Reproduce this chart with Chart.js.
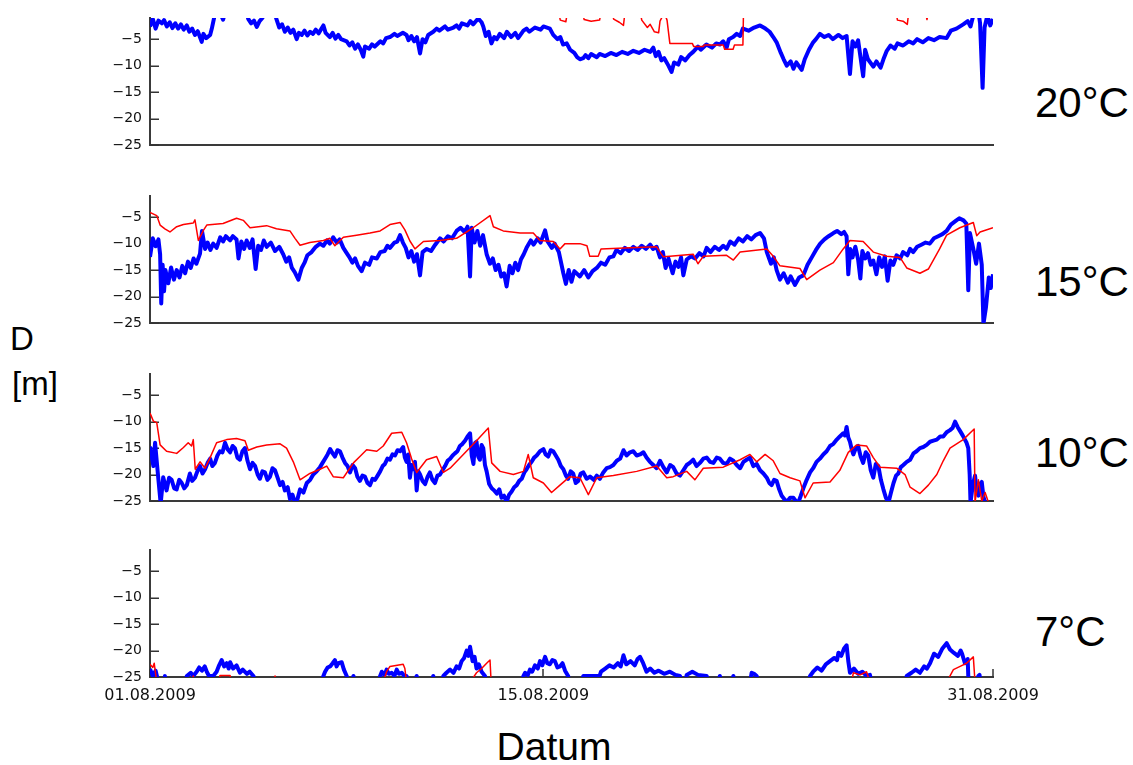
<!DOCTYPE html>
<html>
<head>
<meta charset="utf-8">
<script src="https://cdn.jsdelivr.net/npm/chart.js@4.4.1/dist/chart.umd.min.js"></script>
<style>
html, body { margin: 0; padding: 0; background: #fff; }
body { width: 1133px; height: 765px; position: relative; overflow: hidden; font-family: 'Liberation Sans', Arial, sans-serif; color: #000; }
.panel { position: absolute; left: 0; width: 1133px; }
.temp { position: absolute; left: 1035px; font-size: 42px; line-height: 42px; }
.lbl { position: absolute; font-size: 33px; line-height: 33px; }
#datum { position: absolute; left: 404px; width: 300px; top: 727px; text-align: center; font-size: 39px; line-height: 39px; }
</style>
</head>
<body>
<div class="lbl" style="left:10px;top:322px">D</div>
<div class="lbl" style="left:12px;top:367px">[m]</div>
<div id="datum">Datum</div>
<script>
// y ticks (depth, m) and x ticks (days since 01.08.2009)
const depthTicks = [-25, -20, -15, -10, -5];
const dateTicks = [0, 14, 30];
const dateLabels = ['01.08.2009', '15.08.2009', '31.08.2009'];
const panelLabels = ['20°C', '15°C', '10°C', '7°C'];

// series as [day, depth] (values above -1 / below -25 fall outside the plot)
const blue20 = [[0,-2.6],[0.1,-1.2],[0.2,-3.0],[0.3,-1.5],[0.42,-2.0],[0.5,-1.4],[0.6,-2.6],[0.7,-1.8],[0.8,-2.9],[0.9,-2.0],[1.0,-3.0],[1.1,-2.2],[1.2,-3.2],[1.31,-2.4],[1.4,-3.6],[1.5,-3.0],[1.6,-4.2],[1.7,-3.5],[1.84,-5.5],[1.9,-4.0],[2.0,-4.8],[2.14,-4.2],[2.2,-3.0],[2.3,-0.5],[2.45,0.5],[2.6,-1.3],[2.7,0.5],[3.4,0.5],[3.5,-1.2],[3.6,-2.0],[3.7,-1.5],[3.8,-2.7],[3.9,-1.6],[4.0,-1.0],[4.1,0.5],[4.4,0.5],[4.5,-1.2],[4.6,-2.8],[4.7,-2.2],[4.8,-3.6],[4.9,-2.8],[5.0,-3.8],[5.1,-3.2],[5.22,-5.0],[5.3,-3.8],[5.4,-4.2],[5.5,-3.4],[5.6,-4.3],[5.7,-3.6],[5.8,-4.0],[5.9,-3.2],[6.0,-3.9],[6.17,-2.4],[6.25,-3.8],[6.4,-4.6],[6.5,-3.8],[6.6,-4.9],[6.7,-4.2],[6.8,-5.0],[7.0,-5.4],[7.1,-6.2],[7.2,-5.6],[7.3,-6.8],[7.4,-6.0],[7.5,-7.0],[7.59,-8.3],[7.65,-6.4],[7.8,-6.8],[7.9,-6.0],[8.0,-6.4],[8.2,-5.4],[8.3,-5.8],[8.4,-4.8],[8.54,-4.6],[8.7,-4.0],[8.8,-4.4],[9.0,-3.8],[9.13,-4.2],[9.2,-5.2],[9.3,-4.4],[9.4,-5.4],[9.5,-4.6],[9.61,-7.7],[9.7,-5.0],[9.8,-5.6],[9.9,-4.2],[10.08,-3.6],[10.2,-3.0],[10.3,-3.4],[10.5,-2.6],[10.6,-3.2],[10.8,-2.8],[10.91,-2.4],[11.0,-3.0],[11.1,-2.0],[11.3,-2.4],[11.4,-1.6],[11.5,-2.2],[11.68,-1.1],[11.8,-1.8],[11.86,-2.6],[11.95,-4.4],[12.05,-3.6],[12.15,-5.8],[12.25,-4.6],[12.34,-5.0],[12.45,-4.0],[12.6,-4.8],[12.7,-3.6],[12.85,-4.6],[13.0,-3.8],[13.1,-4.8],[13.29,-3.4],[13.4,-3.0],[13.5,-3.6],[13.7,-2.8],[13.9,-3.2],[14.0,-2.6],[14.23,-3.0],[14.35,-4.2],[14.5,-5.0],[14.6,-4.6],[14.7,-6.0],[14.83,-5.8],[14.95,-7.0],[15.1,-7.6],[15.2,-8.4],[15.3,-8.8],[15.42,-8.6],[15.5,-8.0],[15.6,-8.6],[15.7,-7.8],[15.9,-8.4],[16.0,-7.8],[16.2,-8.2],[16.4,-7.6],[16.6,-8.0],[16.8,-7.4],[17.0,-7.8],[17.2,-7.2],[17.4,-7.6],[17.6,-7.0],[17.8,-7.4],[17.91,-6.6],[18.0,-8.2],[18.1,-7.4],[18.2,-9.0],[18.3,-8.6],[18.45,-10.0],[18.56,-11.2],[18.65,-9.4],[18.8,-9.8],[18.9,-8.4],[19.05,-9.0],[19.2,-8.0],[19.33,-7.4],[19.5,-6.4],[19.6,-7.0],[19.8,-6.0],[20.0,-6.6],[20.15,-5.8],[20.28,-6.0],[20.4,-5.4],[20.52,-6.6],[20.6,-5.0],[20.75,-4.6],[20.88,-4.0],[21.0,-4.4],[21.1,-3.0],[21.3,-3.4],[21.5,-2.8],[21.71,-2.4],[21.9,-3.0],[22.05,-3.6],[22.18,-4.6],[22.3,-5.6],[22.45,-7.6],[22.55,-8.8],[22.66,-10.0],[22.8,-9.2],[22.9,-10.6],[23.0,-9.4],[23.19,-10.8],[23.3,-8.8],[23.45,-7.0],[23.6,-5.6],[23.7,-5.0],[23.84,-4.0],[24.0,-4.6],[24.15,-4.2],[24.3,-5.0],[24.5,-4.2],[24.65,-4.8],[24.79,-4.4],[24.91,-11.6],[25.0,-5.4],[25.1,-6.4],[25.2,-5.2],[25.38,-12.0],[25.45,-7.0],[25.55,-8.8],[25.74,-10.2],[25.85,-9.2],[26.0,-10.4],[26.1,-8.8],[26.22,-7.2],[26.35,-6.2],[26.5,-6.8],[26.6,-5.8],[26.8,-6.2],[27.0,-5.4],[27.16,-5.8],[27.3,-5.0],[27.5,-5.6],[27.7,-4.8],[27.9,-5.2],[28.1,-4.6],[28.35,-4.8],[28.5,-3.4],[28.7,-3.0],[28.94,-2.2],[29.1,-1.6],[29.2,-2.6],[29.3,-0.5],[29.5,-0.5],[29.54,-2.0],[29.63,-14.2],[29.7,-2.8],[29.8,-0.5],[29.9,-2.4],[30,-1.2]];
const red20 = [[0,0],[14.55,0],[14.6,-1.4],[14.8,-1.7],[14.85,0],[15.4,0],[15.45,-1.3],[15.7,-1.6],[16.0,-1.4],[16.05,0],[16.45,0],[16.5,-1.2],[16.7,-1.8],[16.85,-2.4],[16.9,0],[17.45,0],[17.5,-1.4],[17.7,-2.8],[17.8,-2.2],[17.95,-3.6],[18.1,-3.8],[18.15,-1.6],[18.3,0],[18.4,-1.4],[18.5,-5.8],[19.3,-5.8],[19.35,-6.4],[19.7,-6.4],[19.72,-6.1],[20.4,-6.1],[20.45,-6.9],[20.75,-6.9],[20.8,-6.1],[21.1,-6.1],[21.12,0],[26.55,0],[26.6,-1.4],[26.8,-1.6],[26.95,-2.2],[27.0,0],[27.6,0],[27.65,-1.3],[27.7,0],[30,0]];

const blue15 = [[0,-12.5],[0.1,-9.0],[0.2,-10.5],[0.3,-9.2],[0.36,-12.0],[0.4,-21.3],[0.45,-14.0],[0.5,-19.0],[0.55,-15.0],[0.65,-17.5],[0.75,-14.5],[0.85,-16.8],[0.95,-15.0],[1.05,-16.4],[1.15,-14.2],[1.25,-15.6],[1.35,-13.4],[1.45,-14.6],[1.55,-12.8],[1.65,-13.8],[1.78,-11.9],[1.85,-7.6],[1.96,-11.0],[2.05,-9.8],[2.15,-11.2],[2.25,-10.0],[2.37,-10.8],[2.5,-8.8],[2.6,-9.6],[2.7,-8.6],[2.85,-9.4],[2.95,-8.6],[3.08,-9.2],[3.15,-12.8],[3.25,-9.6],[3.35,-11.0],[3.44,-9.4],[3.55,-10.8],[3.65,-9.2],[3.76,-14.8],[3.85,-10.4],[3.95,-11.2],[4.05,-9.4],[4.15,-10.6],[4.3,-9.8],[4.45,-11.4],[4.6,-10.6],[4.74,-12.0],[4.85,-13.4],[4.95,-12.6],[5.05,-14.6],[5.15,-15.4],[5.28,-16.8],[5.4,-14.6],[5.5,-13.6],[5.6,-12.2],[5.75,-11.6],[5.9,-10.6],[6.05,-10.0],[6.17,-10.4],[6.3,-9.4],[6.4,-10.0],[6.52,-8.8],[6.65,-9.8],[6.75,-9.2],[6.88,-10.8],[7.0,-11.8],[7.1,-12.6],[7.2,-13.6],[7.3,-12.8],[7.4,-14.2],[7.53,-15.2],[7.65,-13.6],[7.8,-14.0],[7.9,-12.6],[8.07,-12.8],[8.2,-11.6],[8.35,-11.4],[8.45,-10.4],[8.54,-10.8],[8.7,-9.8],[8.8,-9.6],[8.9,-8.4],[9.0,-9.8],[9.1,-10.8],[9.2,-12.6],[9.3,-11.4],[9.4,-13.4],[9.5,-12.0],[9.61,-16.0],[9.7,-11.6],[9.85,-11.0],[10.0,-11.4],[10.15,-10.2],[10.32,-9.0],[10.45,-9.6],[10.6,-8.6],[10.75,-9.0],[10.91,-7.6],[11.05,-7.0],[11.2,-7.8],[11.3,-6.8],[11.39,-16.2],[11.45,-7.0],[11.55,-9.8],[11.65,-7.6],[11.75,-10.4],[11.85,-8.4],[11.98,-12.0],[12.1,-13.8],[12.2,-12.8],[12.3,-15.0],[12.4,-14.0],[12.5,-16.2],[12.6,-15.6],[12.69,-18.1],[12.8,-14.2],[12.9,-15.6],[13.0,-13.6],[13.1,-15.0],[13.2,-13.0],[13.3,-12.0],[13.4,-10.8],[13.55,-9.4],[13.65,-10.2],[13.8,-9.0],[13.9,-9.8],[14.06,-7.5],[14.15,-9.6],[14.3,-10.8],[14.4,-10.0],[14.55,-11.6],[14.71,-15.6],[14.8,-17.6],[14.9,-15.0],[15.0,-17.2],[15.1,-15.2],[15.3,-16.2],[15.45,-15.0],[15.6,-16.4],[15.75,-15.2],[15.9,-14.6],[16.05,-13.6],[16.2,-14.0],[16.35,-12.6],[16.49,-12.4],[16.6,-11.2],[16.75,-11.8],[16.9,-10.8],[17.05,-11.4],[17.2,-10.6],[17.35,-11.2],[17.5,-10.4],[17.65,-11.0],[17.8,-10.2],[17.9,-11.0],[18.03,-10.6],[18.15,-12.6],[18.25,-11.6],[18.35,-14.6],[18.45,-12.8],[18.6,-15.6],[18.7,-13.4],[18.8,-14.4],[18.9,-12.6],[18.98,-16.0],[19.1,-13.0],[19.25,-12.4],[19.4,-12.8],[19.55,-11.8],[19.7,-12.4],[19.81,-10.8],[19.95,-11.6],[20.1,-10.6],[20.25,-11.2],[20.4,-10.4],[20.52,-11.0],[20.65,-9.6],[20.8,-10.2],[20.95,-9.0],[21.1,-9.6],[21.25,-8.6],[21.4,-9.2],[21.55,-8.4],[21.71,-8.0],[21.85,-9.0],[21.95,-11.6],[22.1,-13.8],[22.2,-12.6],[22.3,-15.0],[22.42,-16.8],[22.55,-15.6],[22.7,-17.4],[22.8,-16.2],[22.95,-17.8],[23.1,-16.4],[23.25,-16.0],[23.4,-14.0],[23.55,-12.6],[23.7,-11.2],[23.85,-10.0],[24.0,-9.2],[24.15,-8.6],[24.32,-8.0],[24.45,-7.6],[24.6,-8.2],[24.7,-7.8],[24.79,-8.6],[24.85,-15.8],[24.92,-11.0],[25.0,-12.6],[25.1,-10.6],[25.2,-13.0],[25.28,-16.6],[25.35,-11.4],[25.45,-12.8],[25.55,-11.8],[25.65,-14.0],[25.74,-13.2],[25.85,-15.8],[25.95,-12.6],[26.05,-14.4],[26.15,-12.4],[26.25,-17.0],[26.35,-13.2],[26.45,-14.0],[26.57,-12.2],[26.7,-12.8],[26.8,-11.6],[26.95,-12.2],[27.05,-11.0],[27.16,-11.6],[27.3,-10.6],[27.45,-10.2],[27.6,-9.8],[27.75,-10.0],[27.9,-9.0],[28.05,-8.6],[28.2,-8.2],[28.35,-7.6],[28.5,-6.4],[28.65,-5.8],[28.8,-5.2],[28.95,-5.6],[29.05,-6.2],[29.12,-18.8],[29.18,-8.0],[29.3,-11.0],[29.4,-13.8],[29.5,-10.0],[29.6,-14.0],[29.66,-25.2],[29.75,-22.0],[29.85,-16.4],[29.92,-18.4],[30,-15.8]];
const red15 = [[0,-4.1],[0.24,-4.7],[0.36,-6.5],[0.53,-7.2],[0.71,-7.8],[0.95,-6.8],[1.19,-6.4],[1.54,-6.1],[1.6,-5.5],[1.72,-9.4],[1.9,-7.5],[2.02,-6.5],[2.6,-6.2],[3.08,-5.2],[3.32,-5.6],[3.56,-7.0],[4.15,-6.6],[4.5,-7.2],[4.98,-7.6],[5.16,-9.0],[5.34,-10.3],[5.69,-9.8],[6.17,-9.4],[6.4,-9.0],[6.58,-10.4],[6.88,-8.8],[7.35,-8.4],[7.83,-8.0],[8.19,-7.6],[8.54,-6.4],[8.9,-6.0],[9.07,-7.4],[9.25,-9.5],[9.43,-11.0],[9.73,-9.6],[10.32,-9.4],[10.91,-9.0],[11.5,-7.0],[12.1,-4.7],[12.22,-6.8],[12.57,-7.6],[13.17,-8.0],[13.64,-8.0],[13.88,-9.4],[14.35,-9.6],[14.59,-11.0],[14.77,-10.0],[15.3,-10.0],[15.55,-10.4],[15.65,-12.4],[15.95,-12.4],[16.05,-11.0],[17.08,-10.8],[18.03,-10.6],[18.27,-12.5],[18.5,-12.4],[19.33,-12.0],[19.5,-13.8],[19.69,-12.4],[20.52,-12.2],[20.76,-13.1],[21.0,-11.6],[21.95,-11.0],[22.18,-12.4],[22.42,-14.2],[23.13,-14.7],[23.37,-16.8],[23.84,-15.0],[24.32,-13.6],[24.67,-11.0],[24.91,-9.4],[25.38,-9.6],[25.74,-11.6],[26.22,-12.4],[26.69,-12.6],[26.93,-14.6],[27.4,-15.6],[27.7,-14.8],[28.1,-11.0],[28.35,-8.4],[28.82,-7.0],[29.3,-6.0],[29.42,-8.5],[29.54,-7.8],[30,-7.0]];

const blue10 = [[0,-14.7],[0.12,-18.4],[0.18,-14.0],[0.3,-21.0],[0.38,-25.5],[0.47,-20.5],[0.59,-23.0],[0.68,-20.6],[0.77,-21.0],[0.86,-22.6],[0.95,-22.8],[1.04,-21.0],[1.13,-21.6],[1.22,-22.6],[1.31,-22.0],[1.42,-19.8],[1.5,-21.2],[1.6,-20.6],[1.7,-19.2],[1.78,-18.4],[1.87,-19.8],[1.96,-19.0],[2.05,-17.8],[2.14,-17.0],[2.22,-18.4],[2.31,-17.8],[2.4,-16.4],[2.49,-15.6],[2.58,-15.8],[2.67,-14.0],[2.76,-15.2],[2.85,-15.8],[2.94,-14.6],[3.02,-15.0],[3.11,-16.8],[3.2,-17.2],[3.29,-15.6],[3.38,-15.0],[3.47,-17.4],[3.56,-19.0],[3.65,-17.8],[3.74,-18.4],[3.83,-20.0],[3.91,-20.8],[4.0,-19.4],[4.09,-19.6],[4.18,-21.0],[4.27,-20.4],[4.36,-18.8],[4.45,-19.2],[4.54,-20.6],[4.63,-22.0],[4.72,-21.4],[4.8,-23.0],[4.9,-22.4],[4.98,-24.6],[5.07,-23.8],[5.16,-25.3],[5.25,-24.6],[5.34,-22.8],[5.46,-23.4],[5.58,-21.6],[5.7,-21.0],[5.81,-20.0],[5.93,-19.4],[6.05,-18.6],[6.14,-17.8],[6.23,-17.0],[6.32,-16.2],[6.41,-15.2],[6.5,-16.0],[6.58,-16.6],[6.67,-15.4],[6.76,-15.6],[6.85,-16.8],[6.94,-17.8],[7.03,-18.4],[7.12,-19.6],[7.21,-18.2],[7.3,-18.8],[7.38,-20.4],[7.47,-21.2],[7.56,-20.2],[7.65,-20.4],[7.74,-21.6],[7.83,-22.0],[7.92,-20.8],[8.01,-21.0],[8.1,-20.2],[8.19,-19.4],[8.28,-18.4],[8.36,-18.0],[8.45,-17.0],[8.54,-17.2],[8.63,-16.2],[8.72,-16.4],[8.81,-15.4],[8.9,-15.6],[9.01,-14.8],[9.07,-16.8],[9.13,-17.6],[9.19,-16.2],[9.25,-20.6],[9.31,-18.2],[9.37,-19.0],[9.43,-17.6],[9.49,-23.0],[9.55,-19.4],[9.61,-20.0],[9.7,-21.2],[9.79,-21.8],[9.88,-20.4],[9.96,-19.6],[10.05,-21.0],[10.14,-21.6],[10.23,-20.2],[10.32,-20.0],[10.41,-19.2],[10.5,-18.4],[10.59,-17.4],[10.68,-17.0],[10.77,-16.4],[10.85,-16.0],[10.94,-15.6],[11.03,-14.6],[11.12,-14.2],[11.21,-13.6],[11.3,-12.8],[11.39,-12.2],[11.45,-16.4],[11.51,-18.0],[11.57,-14.0],[11.62,-13.8],[11.68,-16.6],[11.74,-17.2],[11.8,-14.4],[11.86,-15.0],[11.92,-18.2],[11.98,-19.4],[12.07,-21.8],[12.16,-22.6],[12.25,-23.0],[12.34,-23.6],[12.43,-22.8],[12.51,-24.4],[12.6,-24.0],[12.69,-25.2],[12.78,-23.8],[12.87,-23.2],[12.96,-22.4],[13.05,-22.0],[13.14,-21.2],[13.23,-20.8],[13.32,-19.6],[13.4,-19.0],[13.49,-18.2],[13.58,-17.6],[13.67,-16.8],[13.76,-16.4],[13.88,-15.6],[14.0,-15.2],[14.08,-16.2],[14.17,-16.6],[14.26,-15.4],[14.35,-15.6],[14.44,-16.4],[14.53,-17.2],[14.62,-18.4],[14.71,-19.0],[14.8,-20.2],[14.88,-20.8],[14.97,-19.4],[15.06,-19.8],[15.15,-21.6],[15.24,-21.2],[15.33,-19.8],[15.42,-19.6],[15.54,-20.8],[15.66,-20.4],[15.8,-21.0],[15.9,-20.2],[16.01,-20.8],[16.13,-19.6],[16.25,-18.8],[16.37,-18.6],[16.49,-18.2],[16.61,-17.4],[16.73,-17.0],[16.85,-15.4],[16.96,-16.4],[17.08,-15.8],[17.2,-15.6],[17.32,-16.4],[17.44,-16.2],[17.56,-15.8],[17.67,-16.8],[17.79,-17.6],[17.91,-18.2],[18.03,-18.8],[18.15,-17.4],[18.27,-18.6],[18.39,-19.6],[18.51,-18.2],[18.62,-18.6],[18.74,-19.8],[18.86,-20.2],[18.98,-19.2],[19.1,-18.2],[19.21,-17.8],[19.33,-17.2],[19.45,-18.4],[19.57,-17.8],[19.69,-17.0],[19.81,-16.8],[19.93,-17.6],[20.05,-17.8],[20.17,-16.8],[20.28,-17.0],[20.4,-17.8],[20.52,-18.0],[20.64,-17.0],[20.76,-17.4],[20.88,-18.2],[21.0,-18.8],[21.12,-17.6],[21.23,-17.2],[21.35,-16.8],[21.47,-18.4],[21.59,-18.0],[21.71,-19.2],[21.83,-19.8],[21.95,-20.6],[22.04,-21.6],[22.12,-22.0],[22.21,-21.0],[22.3,-21.2],[22.39,-22.8],[22.48,-24.0],[22.57,-24.6],[22.66,-25.2],[22.78,-24.4],[22.9,-24.4],[22.98,-25.0],[23.07,-25.3],[23.16,-24.0],[23.25,-22.6],[23.37,-21.0],[23.49,-19.6],[23.6,-18.8],[23.72,-17.6],[23.84,-17.0],[23.96,-16.2],[24.08,-15.6],[24.2,-14.6],[24.32,-14.2],[24.44,-13.4],[24.55,-12.8],[24.67,-12.2],[24.73,-12.6],[24.79,-11.0],[24.85,-13.0],[24.91,-13.8],[24.97,-15.2],[25.03,-16.2],[25.12,-15.0],[25.2,-14.6],[25.29,-16.6],[25.38,-17.8],[25.47,-15.8],[25.56,-16.4],[25.65,-19.2],[25.74,-20.6],[25.83,-18.0],[25.92,-18.4],[26.01,-21.0],[26.1,-22.8],[26.19,-24.4],[26.28,-25.3],[26.37,-23.4],[26.46,-21.6],[26.55,-20.2],[26.63,-19.8],[26.72,-18.6],[26.81,-18.2],[26.93,-17.6],[27.05,-17.2],[27.17,-16.0],[27.28,-15.6],[27.4,-15.0],[27.52,-14.8],[27.64,-14.4],[27.76,-13.8],[27.88,-13.6],[28.0,-13.4],[28.12,-12.8],[28.23,-12.8],[28.35,-12.0],[28.47,-11.6],[28.56,-11.2],[28.65,-10.0],[28.74,-11.0],[28.83,-11.8],[28.92,-12.6],[29.0,-13.4],[29.06,-14.0],[29.12,-15.0],[29.17,-20.0],[29.2,-25.3],[29.28,-22.0],[29.36,-20.2],[29.42,-23.0],[29.48,-24.0],[29.54,-21.8],[29.6,-21.4],[29.66,-24.2],[29.72,-25.3],[30,-26]];
const red10 = [[0,-8.4],[0.12,-9.9],[0.24,-10.2],[0.36,-14.4],[0.59,-15.6],[0.95,-16.0],[1.19,-14.9],[1.36,-14.0],[1.48,-14.6],[1.54,-13.4],[1.61,-19.0],[1.78,-17.6],[1.96,-18.8],[2.14,-16.8],[2.37,-14.0],[2.73,-13.4],[3.08,-13.2],[3.38,-13.6],[3.5,-15.4],[3.8,-14.8],[4.15,-14.4],[4.63,-14.2],[4.86,-15.0],[5.1,-17.6],[5.34,-21.0],[5.69,-19.8],[6.05,-19.0],[6.29,-18.4],[6.52,-20.4],[6.88,-20.6],[7.24,-17.8],[7.47,-16.6],[7.71,-15.3],[8.07,-15.6],[8.3,-14.6],[8.6,-12.2],[8.96,-12.0],[9.13,-14.0],[9.31,-17.0],[9.49,-19.6],[9.84,-17.2],[10.2,-16.6],[10.44,-19.6],[10.68,-18.8],[11.15,-16.2],[11.62,-13.6],[12.04,-11.2],[12.16,-17.8],[12.46,-19.4],[12.93,-20.0],[13.29,-19.4],[13.46,-16.2],[13.64,-20.6],[14.0,-21.6],[14.29,-23.4],[14.59,-22.0],[14.94,-20.4],[15.3,-20.6],[15.6,-23.8],[15.9,-20.6],[16.49,-20.2],[17.32,-19.4],[18.03,-18.4],[18.39,-20.6],[18.62,-20.4],[19.1,-19.4],[19.39,-21.0],[19.69,-18.8],[20.4,-18.6],[21.0,-17.2],[21.35,-16.2],[21.59,-17.6],[21.89,-16.2],[22.18,-17.4],[22.42,-19.8],[22.78,-20.6],[23.13,-21.2],[23.31,-24.4],[23.6,-21.6],[24.2,-21.4],[24.55,-19.2],[24.85,-15.8],[25.15,-14.4],[25.5,-14.6],[25.74,-16.8],[25.98,-18.6],[26.57,-18.8],[26.87,-20.0],[27.05,-22.4],[27.4,-23.6],[27.7,-22.0],[28.0,-20.0],[28.23,-17.4],[28.47,-15.0],[28.94,-13.4],[29.33,-11.4],[29.36,-25.2],[29.48,-21.0],[29.6,-25.0],[29.72,-23.4],[29.84,-25.3],[30,-26]];

const blue7 = [[0,-23.5],[0.1,-24.8],[0.2,-23.8],[0.3,-26],[0.5,-26],[0.53,-24.8],[0.56,-26],[1.28,-26],[1.31,-24.8],[1.45,-24.2],[1.54,-24.8],[1.66,-24.0],[1.75,-23.2],[1.85,-23.8],[1.95,-23.0],[2.02,-24.0],[2.1,-24.8],[2.25,-24.8],[2.37,-24.0],[2.46,-22.8],[2.55,-21.8],[2.64,-23.0],[2.73,-22.4],[2.8,-23.4],[2.85,-22.2],[2.96,-23.4],[3.08,-22.8],[3.2,-24.2],[3.3,-23.6],[3.45,-24.4],[3.55,-24.0],[3.68,-24.8],[3.75,-26],[6.12,-26],[6.17,-24.8],[6.23,-24.0],[6.32,-23.2],[6.41,-23.0],[6.5,-22.4],[6.58,-21.8],[6.64,-23.0],[6.7,-22.4],[6.82,-22.2],[6.9,-23.6],[7.0,-24.8],[7.05,-26],[7.2,-26],[7.24,-24.8],[7.28,-26],[8.15,-26],[8.19,-24.8],[8.25,-24.0],[8.35,-24.6],[8.42,-23.6],[8.5,-24.4],[8.6,-24.2],[8.7,-24.8],[8.78,-23.6],[8.86,-24.4],[8.96,-24.2],[9.05,-24.8],[9.13,-24.8],[9.18,-26],[9.45,-26],[9.49,-24.8],[9.53,-26],[10.04,-26],[10.08,-24.8],[10.12,-26],[10.4,-26],[10.44,-24.8],[10.55,-24.2],[10.68,-23.6],[10.8,-24.2],[10.91,-23.0],[11.0,-23.4],[11.09,-22.0],[11.18,-21.4],[11.27,-20.0],[11.33,-21.0],[11.39,-19.3],[11.48,-22.0],[11.55,-21.2],[11.62,-23.4],[11.7,-22.6],[11.8,-24.0],[11.92,-24.8],[11.98,-26],[13.25,-26],[13.29,-24.8],[13.35,-24.2],[13.45,-24.6],[13.52,-23.6],[13.6,-24.0],[13.7,-22.8],[13.8,-23.4],[13.88,-22.0],[13.96,-22.8],[14.06,-21.2],[14.14,-22.4],[14.23,-22.6],[14.32,-21.8],[14.41,-22.0],[14.5,-23.2],[14.59,-23.0],[14.68,-22.4],[14.77,-23.8],[14.88,-24.8],[14.93,-26],[15.38,-26],[15.42,-24.8],[16.0,-24.8],[16.05,-24.0],[16.2,-23.4],[16.35,-22.8],[16.5,-23.2],[16.65,-22.4],[16.75,-23.0],[16.85,-20.9],[16.95,-22.6],[17.1,-22.0],[17.25,-22.8],[17.35,-21.6],[17.44,-21.2],[17.55,-22.4],[17.67,-24.0],[17.8,-23.4],[17.95,-24.2],[18.1,-23.8],[18.3,-24.4],[18.5,-24.0],[18.7,-24.6],[18.86,-24.8],[18.95,-26],[19.05,-26],[19.1,-24.6],[19.3,-24.0],[19.5,-24.6],[19.81,-24.8],[19.86,-26],[20.24,-26],[20.28,-24.8],[20.32,-26],[20.72,-26],[20.76,-24.8],[20.8,-26],[21.36,-26],[21.41,-24.2],[21.5,-24.4],[21.59,-24.8],[21.64,-26],[23.45,-26],[23.49,-24.8],[23.6,-24.0],[23.75,-23.2],[23.9,-23.8],[24.05,-22.6],[24.2,-22.0],[24.35,-21.4],[24.45,-21.8],[24.5,-20.4],[24.6,-21.0],[24.7,-19.6],[24.79,-19.0],[24.85,-22.0],[24.91,-24.2],[25.05,-23.4],[25.2,-24.4],[25.35,-24.0],[25.5,-24.8],[25.62,-24.6],[25.68,-26],[26.88,-26],[26.93,-24.8],[27.1,-24.2],[27.25,-23.6],[27.4,-24.2],[27.55,-23.0],[27.65,-23.4],[27.76,-22.4],[27.9,-20.6],[28.05,-21.2],[28.2,-19.6],[28.35,-18.6],[28.47,-19.8],[28.6,-20.4],[28.75,-21.0],[28.85,-20.0],[28.9,-20.6],[29.0,-22.4],[29.1,-21.6],[29.12,-24.8],[29.2,-26],[29.44,-26],[29.48,-24.8],[29.52,-24.6],[29.56,-26],[30,-26]];
const red7 = [[0,-22.6],[0.1,-23.2],[0.15,-22.4],[0.24,-26],[1.5,-26],[1.54,-24.8],[1.58,-26],[2.45,-26],[2.49,-24.7],[2.85,-24.7],[2.9,-26],[4.4,-26],[4.45,-24.8],[4.5,-26],[8.3,-26],[8.42,-24.0],[8.54,-23.0],[9.01,-22.6],[9.07,-23.4],[9.13,-26],[11.39,-26],[11.62,-24.2],[11.8,-23.4],[11.98,-22.4],[12.1,-21.8],[12.14,-26],[24.97,-26],[25.03,-24.2],[25.27,-24.6],[25.5,-24.0],[25.62,-26],[28.35,-26],[28.59,-23.6],[28.83,-23.0],[29.06,-22.4],[29.3,-21.2],[29.36,-26],[30,-26]];

// page layout of the four stacked panels (plot area top / bottom in px)
const panels = [
  { blue: blue20, red: red20, top: 18, bottom: 145, labelTop: 82 },
  { blue: blue15, red: red15, top: 196, bottom: 323, labelTop: 261 },
  { blue: blue10, red: red10, top: 374, bottom: 501, labelTop: 432 },
  { blue: blue7, red: red7, top: 550, bottom: 677, labelTop: 611 }
];

Chart.defaults.font.family = "'DejaVu Sans', sans-serif";

// matlab style ticks pointing into the plot
const innerTicks = {
  id: 'innerTicks',
  beforeDatasetsDraw(chart, args, opts) {
    const { ctx, chartArea, scales: { x, y } } = chart;
    ctx.save();
    ctx.strokeStyle = '#333';
    ctx.lineWidth = 1.5;
    y.ticks.forEach(t => {
      const py = Math.round(y.getPixelForValue(t.value)) + 0.25;
      ctx.beginPath();
      ctx.moveTo(chartArea.left, py);
      ctx.lineTo(chartArea.left + 9, py);
      ctx.stroke();
    });
    if (opts.xTicks) {
      x.ticks.forEach(t => {
        const px = Math.round(x.getPixelForValue(t.value));
        ctx.beginPath();
        ctx.moveTo(px, chartArea.bottom);
        ctx.lineTo(px, chartArea.bottom - 8);
        ctx.stroke();
      });
    }
    ctx.restore();
  }
};

const toXY = arr => arr.map(([x, y]) => ({ x, y }));

panels.forEach((p, i) => {
  const last = i === panels.length - 1;
  // y labels need about 16px of room above / below the plot
  const padTop = 18;
  const padBottom = last ? 8 : 18;
  const axisH = last ? 36 : 0;

  const lab = document.createElement('div');
  lab.className = 'temp';
  lab.style.top = p.labelTop + 'px';
  lab.textContent = panelLabels[i];
  document.body.appendChild(lab);

  const wrap = document.createElement('div');
  wrap.className = 'panel';
  wrap.style.top = (p.top - padTop) + 'px';
  wrap.style.height = (p.bottom - p.top + padTop + padBottom + axisH) + 'px';
  const cv = document.createElement('canvas');
  wrap.appendChild(cv);
  document.body.appendChild(wrap);

  new Chart(cv, {
    type: 'line',
    data: {
      datasets: [
        { data: toXY(p.red), borderColor: '#ff0000', borderWidth: 1.5, order: 0 },
        { data: toXY(p.blue), borderColor: '#0000ff', borderWidth: 4, order: 1 }
      ]
    },
    options: {
      responsive: true,
      maintainAspectRatio: false,
      animation: false,
      layout: { padding: { top: padTop, right: 140, bottom: padBottom, left: 0 } },
      elements: { point: { radius: 0 }, line: { tension: 0, borderJoinStyle: 'round' } },
      datasets: { line: { clip: 0, pointRadius: 0 } },
      plugins: { legend: { display: false }, tooltip: { enabled: false }, innerTicks: { xTicks: last } },
      scales: {
        x: {
          type: 'linear', min: 0, max: 30,
          grid: { display: false, drawTicks: false },
          border: { display: true, color: '#3a3a3a', width: 2 },
          afterBuildTicks: s => { s.ticks = dateTicks.map(v => ({ value: v })); },
          afterFit: s => { s.height = axisH; },
          ticks: {
            display: last, padding: 9, maxRotation: 0, autoSkip: false,
            font: { size: 16 }, color: '#111',
            callback: v => dateLabels[dateTicks.indexOf(v)]
          }
        },
        y: {
          min: -25, max: -1,
          grid: { display: false, drawTicks: false },
          border: { display: true, color: '#3a3a3a', width: 2 },
          afterBuildTicks: s => { s.ticks = depthTicks.map(v => ({ value: v })); },
          afterFit: s => { s.width = 150; },
          ticks: {
            padding: 8, font: { size: 14 }, color: '#111',
            callback: v => '\u2212' + Math.abs(v)
          }
        }
      }
    },
    plugins: [innerTicks]
  });
});
</script>
</body>
</html>
